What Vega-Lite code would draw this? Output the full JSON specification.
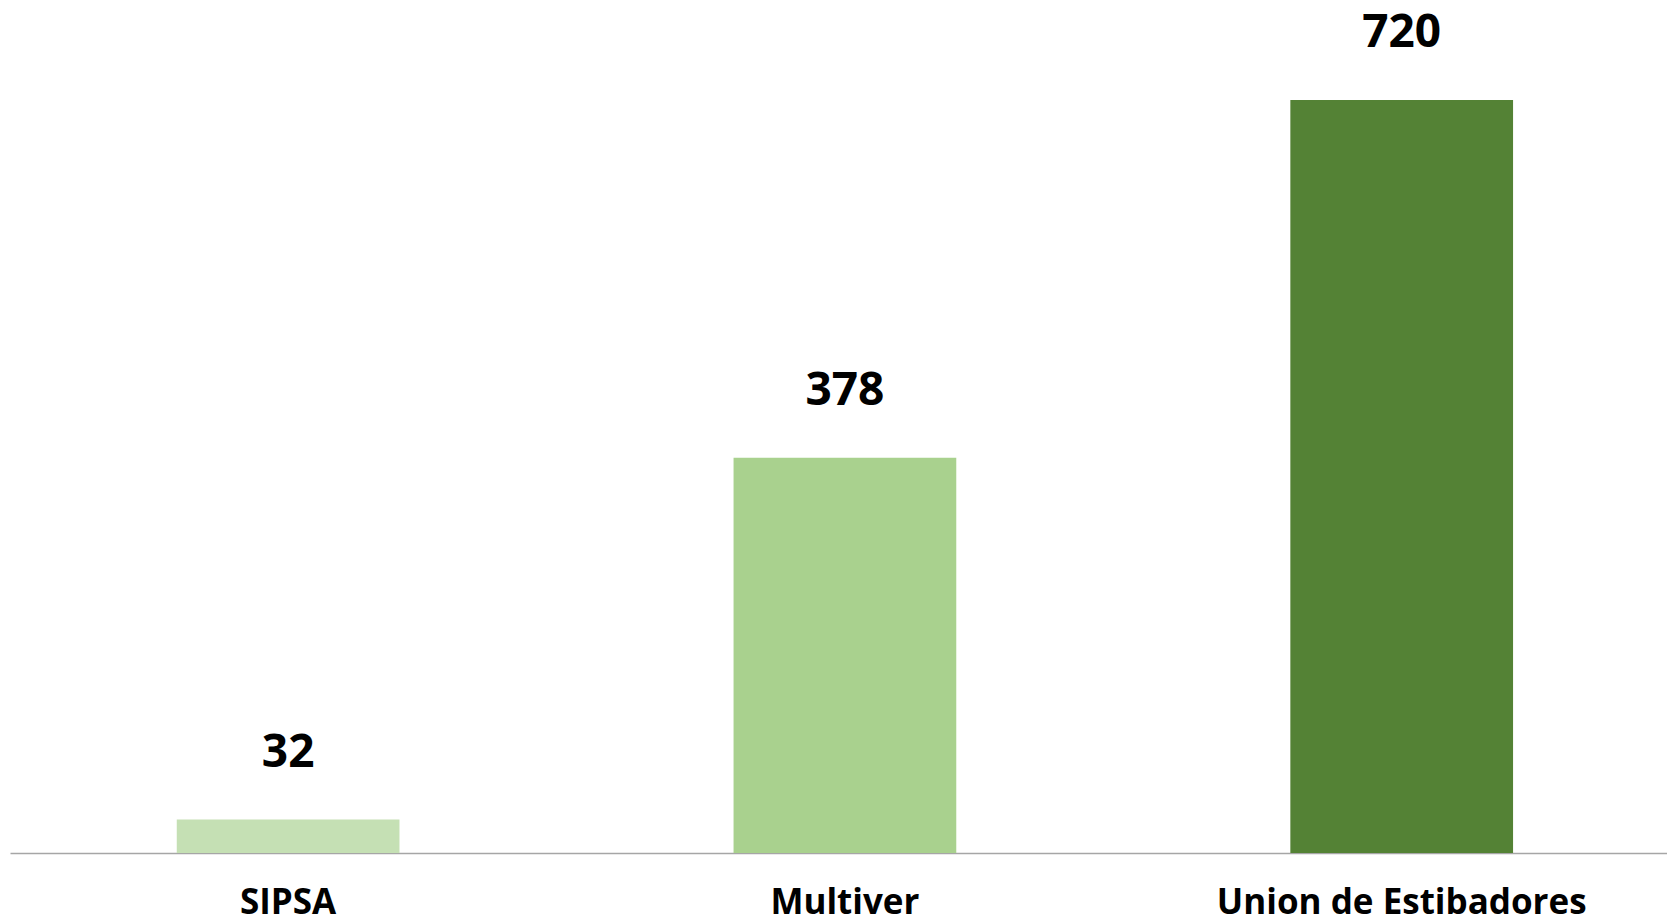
{
  "$schema": "https://vega.github.io/schema/vega-lite/v6.json",
  "width": 1657,
  "height": 853,
  "autosize": {"type": "none"},
  "padding": {"left": 10, "top": 0, "right": 0, "bottom": 64},
  "background": "white",
  "config": {"view": {"stroke": null}},
  "data": {"values": [
    {"empresa": "SIPSA", "valor": 32, "color": "#C5E0B4"},
    {"empresa": "Multiver", "valor": 378, "color": "#A9D18E"},
    {"empresa": "Union de Estibadores", "valor": 720, "color": "#548235"}
  ]},
  "encoding": {
    "x": {
      "field": "empresa", "type": "nominal", "sort": null,
      "scale": {"paddingInner": 0.6, "paddingOuter": 0.288, "align": 0.52},
      "axis": {
        "title": null, "labelAngle": 0, "ticks": false, "tickSize": 0, "labelLimit": 0,
        "labelFont": "Open Sans", "labelFontWeight": "bold", "labelFontSize": 35,
        "labelColor": "#000000", "labelBaseline": "alphabetic", "labelPadding": 60,
        "domainColor": "#A6A6A6", "domainWidth": 1.3, "grid": false
      }
    },
    "y": {
      "field": "valor", "type": "quantitative",
      "scale": {"domain": [0, 815.6], "nice": false},
      "axis": null
    }
  },
  "layer": [
    {"mark": {"type": "bar"}, "encoding": {"color": {"field": "color", "type": "nominal", "scale": null}}},
    {"mark": {"type": "text", "baseline": "alphabetic", "dy": -53, "font": "Open Sans", "fontWeight": "bold", "fontSize": 46, "color": "#000000"},
     "encoding": {"text": {"field": "valor", "type": "quantitative"}}}
  ]
}
